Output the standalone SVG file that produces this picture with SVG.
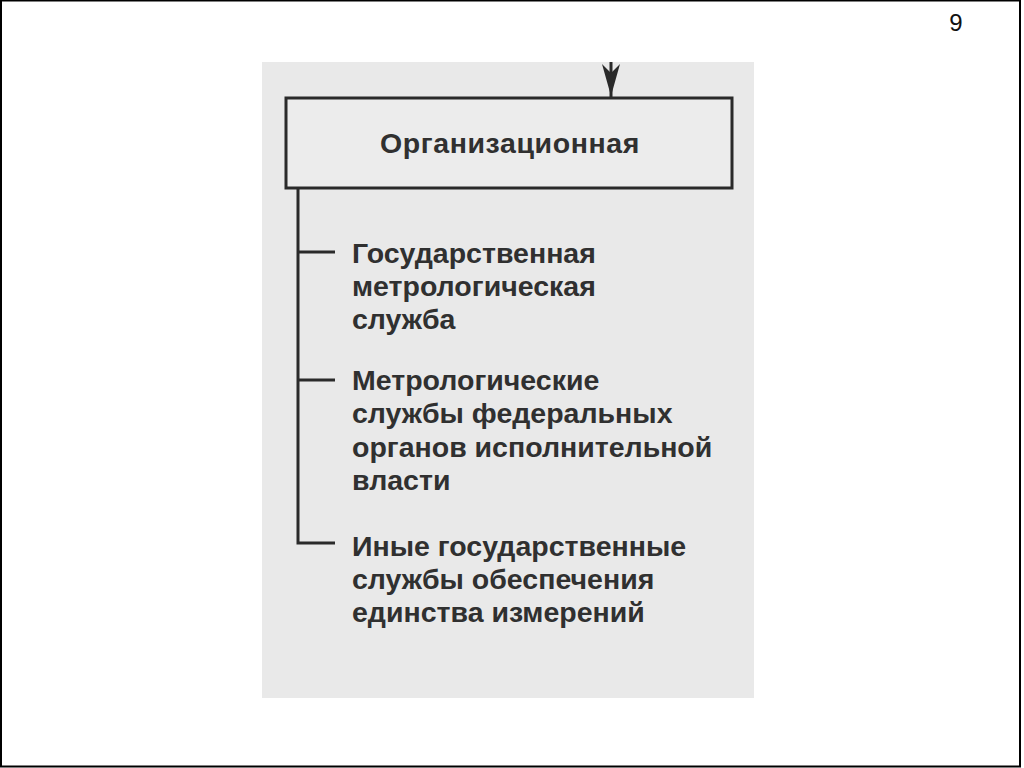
<svg xmlns="http://www.w3.org/2000/svg" width="1024" height="768" viewBox="0 0 1024 768">
<defs>
<style>
.t{font-family:"Liberation Sans",Arial,sans-serif;font-size:28.5px;fill:#303030;font-weight:bold}
.ln{stroke:#2a2a2a;stroke-width:3;fill:none}
</style>
</defs>
<rect x="0" y="0" width="1024" height="768" fill="#fff"/>
<rect x="1" y="0.5" width="1019" height="766" fill="none" stroke="#000" stroke-width="2"/>
<text x="956" y="31" font-family="Liberation Sans,Arial,sans-serif" font-size="24" fill="#111" text-anchor="middle">9</text>
<rect x="262" y="62" width="492" height="636" fill="#e9e9e9"/>
<g id="connectors">
<line class="ln" x1="611" y1="62" x2="611" y2="97"/>
<path d="M602,64 L611,73 L620,64 L611,96 Z" fill="#2a2a2a"/>
<path class="ln" d="M298,189 V543 H335"/>
<line class="ln" x1="298" y1="252" x2="335" y2="252"/>
<line class="ln" x1="298" y1="380" x2="335" y2="380"/>
</g>
<g id="node-org">
<rect x="286" y="98" width="446" height="90" fill="#ececec" stroke="#2a2a2a" stroke-width="3"/>
<text class="t" x="510" y="153" text-anchor="middle" font-size="27" letter-spacing="0.6">Организационная</text>
</g>
<g id="node-1">
<text class="t" x="352" y="263">Государственная</text>
<text class="t" x="352" y="296">метрологическая</text>
<text class="t" x="352" y="329">служба</text>
</g>
<g id="node-2">
<text class="t" x="352" y="390">Метрологические</text>
<text class="t" x="352" y="423">службы федеральных</text>
<text class="t" x="352" y="457">органов исполнительной</text>
<text class="t" x="352" y="490">власти</text>
</g>
<g id="node-3">
<text class="t" x="352" y="556">Иные государственные</text>
<text class="t" x="352" y="589">службы обеспечения</text>
<text class="t" x="352" y="622">единства измерений</text>
</g>
</svg>
